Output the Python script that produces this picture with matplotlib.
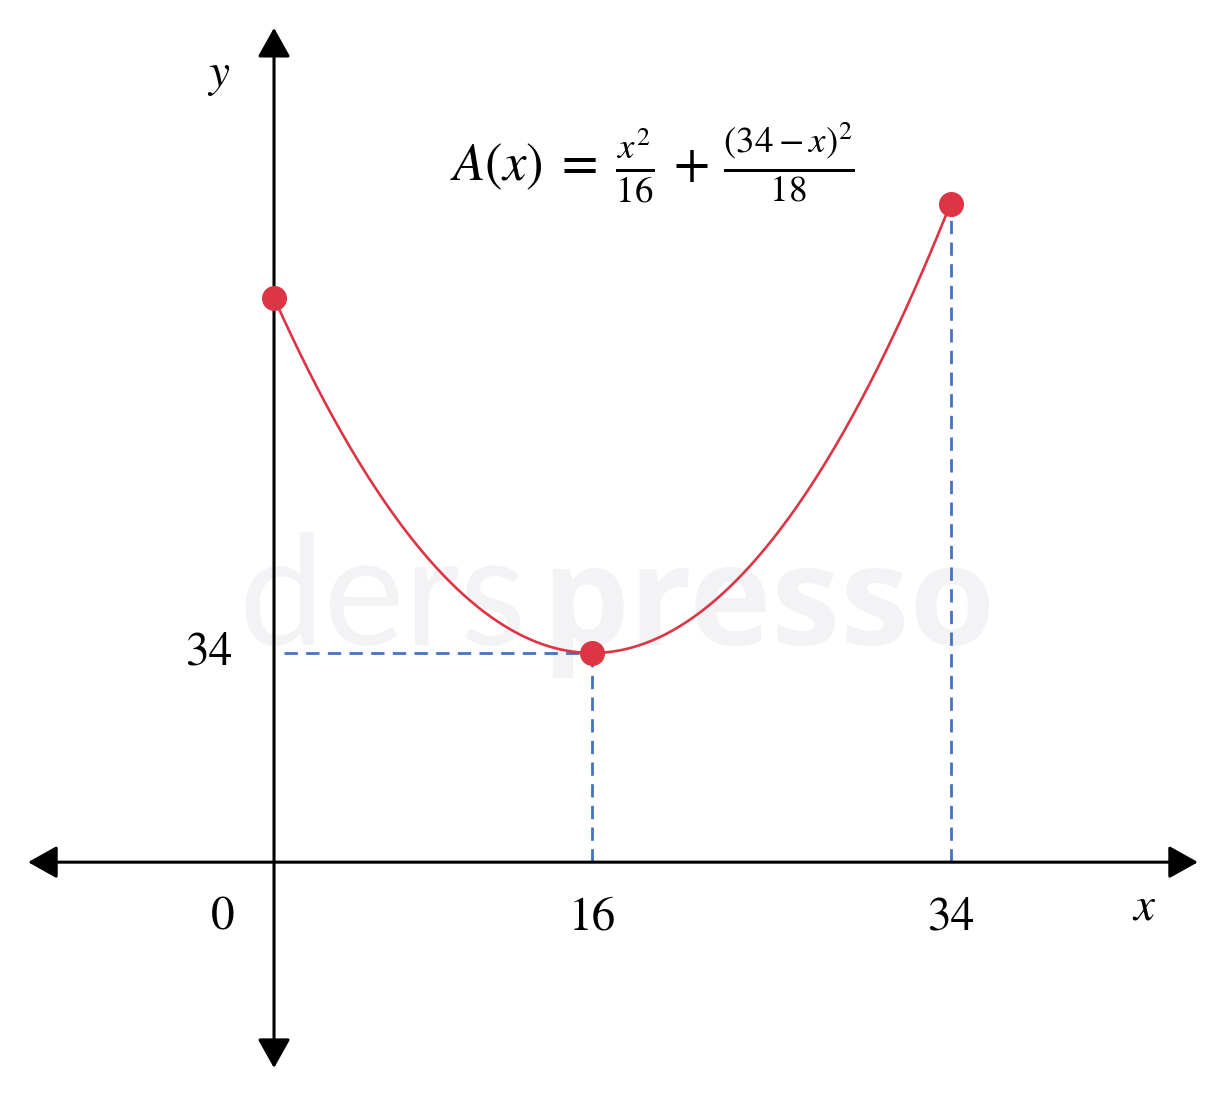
import numpy as np
import matplotlib.pyplot as plt

# data
x_points = [0, 16, 34]
x_tick_labels = ["0", "16", "34"]
y_tick_values = [34]
y_tick_labels = ["34"]


def area(x):
    return x**2 / 16 + (34 - x)**2 / 18


x_curve = np.linspace(0, 34, 400)
y_curve = area(x_curve)
y_points = [area(v) for v in x_points]

red = "#dc3545"
blue = "#4472c4"

plt.rcParams["mathtext.fontset"] = "stix"
plt.rcParams["font.family"] = "STIXGeneral"

fig = plt.figure(figsize=(12.26, 10.96), dpi=100)
ax = fig.add_axes([0, 0, 1, 1])

# schematic axes: x axis is drawn at this level (plot is not to scale)
axis_level = 16.2
ax.set_xlim(-13.77, 47.84)
ax.set_ylim(-3.70, 89.57)
ax.axis("off")

# watermark
ax.text(12.7, 34.7, "ders", fontsize=110, family="Lato", weight="normal",
        color="#f3f3f6", ha="right", va="baseline", zorder=0)
ax.text(13.4, 34.7, "presso", fontsize=100, family="Open Sans", weight="bold",
        color="#f3f3f6", ha="left", va="baseline", zorder=0)

# axes with arrows
ax.annotate("", xy=(46.43, axis_level), xytext=(-12.36, axis_level),
            arrowprops=dict(arrowstyle="<|-|>,head_length=0.5,head_width=0.28",
                            lw=2.2, color="black", mutation_scale=36,
                            shrinkA=0, shrinkB=0), zorder=3)
ax.annotate("", xy=(0, 87.2), xytext=(0, -1.32),
            arrowprops=dict(arrowstyle="<|-|>,head_length=0.5,head_width=0.28",
                            lw=2.2, color="black", mutation_scale=36,
                            shrinkA=0, shrinkB=0), zorder=3)

# dashed guide lines
ax.plot([0.5, x_points[1]], [y_points[1], y_points[1]], color=blue, lw=2.0,
        dashes=(4.8, 3.0), zorder=2)
ax.plot([x_points[1], x_points[1]], [axis_level, y_points[1]], color=blue, lw=2.0,
        dashes=(4.8, 3.0), zorder=2)
ax.plot([x_points[2], x_points[2]], [axis_level, y_points[2]], color=blue, lw=2.0,
        dashes=(4.8, 3.0), zorder=2)

# curve and points
ax.plot(x_curve, y_curve, color=red, lw=1.9, zorder=4)
ax.plot(x_points, y_points, "o", color=red, markersize=17, zorder=5)

# tick labels
offsets = [-37, 0, 0]
for xv, lab, dx in zip(x_points, x_tick_labels, offsets):
    ax.annotate(lab, xy=(xv, axis_level), xytext=(dx, -40), textcoords="offset points",
                ha="center", va="center", fontsize=34)
for yv, lab in zip(y_tick_values, y_tick_labels):
    ax.annotate(lab, xy=(0, yv), xytext=(-47, 0), textcoords="offset points",
                ha="center", va="center", fontsize=34)

# axis names
ax.annotate("$x$", xy=(46.43, axis_level), xytext=(-39, -33), textcoords="offset points",
            ha="center", va="center", fontsize=34)
ax.annotate("$y$", xy=(0, 87.2), xytext=(-40, -35), textcoords="offset points",
            ha="center", va="center", fontsize=34)

# formula
ax.text(19.0, 75.8, r"$A(x)\;=\;\frac{x^2}{16}\,+\,\frac{(34-x)^2}{18}$",
        fontsize=38, ha="center", va="center")

plt.savefig("out.png", dpi=100)
